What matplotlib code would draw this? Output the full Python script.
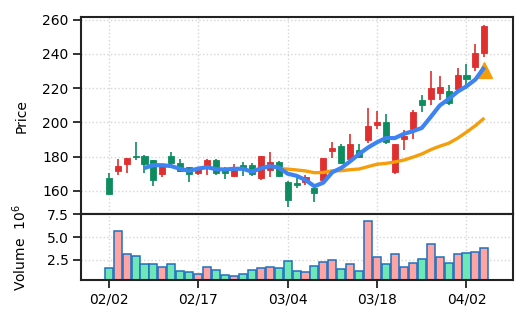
import numpy as np
import pandas as pd
import matplotlib
matplotlib.use("Agg")
import matplotlib.pyplot as plt

# Daily OHLC (price) and volume (millions of shares)
dates = ["02/02", "02/03", "02/04", "02/05", "02/08", "02/09", "02/10", "02/11", "02/12", "02/16",
         "02/17", "02/18", "02/19", "02/22", "02/23", "02/24", "02/25", "02/26", "03/01", "03/02",
         "03/04", "03/05", "03/08", "03/09", "03/10", "03/11", "03/12", "03/15", "03/16", "03/17",
         "03/18", "03/19", "03/22", "03/23", "03/24", "03/25", "03/26", "03/29", "03/30", "03/31",
         "04/02", "04/05", "04/06"]

opens = [167.2, 171.7, 175.7, 180.4, 180.4, 177.9, 170.0, 180.4, 176.2, 173.8,
         170.6, 174.7, 178.1, 173.5, 168.4, 175.2, 175.2, 167.4, 172.1, 177.0,
         165.3, 164.3, 164.9, 161.4, 166.3, 183.4, 186.4, 178.5, 183.7, 189.6,
         198.7, 200.0, 171.1, 190.2, 196.1, 213.2, 213.8, 217.3, 218.1, 219.7,
         227.6, 232.5, 240.7]

highs = [170.6, 178.5, 178.9, 188.3, 180.6, 178.0, 174.8, 182.6, 178.5, 174.0,
         173.2, 178.5, 178.3, 173.8, 175.6, 176.6, 176.2, 180.3, 182.5, 177.6,
         165.9, 167.4, 169.4, 163.0, 179.3, 188.7, 187.3, 193.2, 187.3, 208.5,
         206.9, 204.6, 187.5, 195.7, 207.3, 215.8, 229.9, 227.0, 221.7, 231.5,
         234.0, 245.8, 256.7]

lows = [157.9, 169.4, 170.4, 177.9, 170.4, 162.5, 168.1, 174.3, 171.0, 165.3,
        169.4, 169.4, 169.4, 167.0, 167.8, 168.8, 168.8, 166.3, 167.8, 168.0,
        150.7, 161.6, 163.5, 153.2, 166.1, 179.1, 175.6, 178.3, 179.4, 187.7,
        196.1, 187.3, 170.0, 183.7, 190.2, 205.9, 210.3, 212.8, 210.3, 218.7,
        219.7, 230.1, 238.0]

closes = [158.1, 174.2, 178.9, 179.6, 175.7, 166.2, 174.2, 176.2, 171.5, 170.0,
          172.8, 178.1, 170.6, 170.5, 172.1, 172.7, 169.8, 180.1, 177.0, 168.4,
          154.6, 163.5, 167.8, 158.7, 179.1, 185.0, 176.0, 187.3, 180.0, 198.1,
          200.4, 188.2, 187.3, 192.2, 205.9, 209.9, 220.3, 220.7, 211.2, 227.6,
          225.6, 240.3, 256.5]

volumes = [1.59, 5.67, 3.12, 2.90, 2.10, 2.03, 1.70, 2.10, 1.27, 1.16,
           0.94, 1.70, 1.38, 0.83, 0.75, 0.94, 1.35, 1.59, 1.77, 1.59,
           2.36, 1.33, 1.16, 1.81, 2.31, 2.47, 1.48, 2.03, 1.33, 6.76,
           2.86, 2.03, 3.12, 1.70, 2.14, 2.61, 4.21, 2.79, 2.14, 3.12,
           3.26, 3.34, 3.78]

# Buy-signal marker
signal_day = [42]
signal_price = [230.5]

ma_windows = [5, 20]
ma_colors = ["#3d84f2", "#f59e0b"]
ma_widths = [3.0, 2.4]

up_color, down_color = "#df2f2f", "#0e8c5f"
vol_up, vol_down, vol_edge = "#ffa3a3", "#6fe6b6", "#1f6fbf"

o = np.array(opens)
h = np.array(highs)
l = np.array(lows)
c = np.array(closes)
v = np.array(volumes)
x = np.arange(len(dates))
rising = c >= o

fig = plt.figure(figsize=(5.28, 3.25), dpi=100)
ax = fig.add_axes([0.1534, 0.3406, 0.8182, 0.6071])
axv = fig.add_axes([0.1534, 0.1385, 0.8182, 0.2021], sharex=ax)

grid_kw = dict(color="#d6d6d6", linestyle=":", linewidth=1.0)
for a in (ax, axv):
    a.set_axisbelow(True)
    a.grid(True, **grid_kw)
    for s in a.spines.values():
        s.set_linewidth(1.5)
        s.set_color("#222222")
    a.tick_params(axis="both", direction="out", length=5.5, width=1.3,
                  labelsize=10, color="#222222")

# Candles: wicks then bodies
candle_colors = np.where(rising, up_color, down_color)
ax.vlines(x, l, h, colors=candle_colors, linewidth=1.2, zorder=2)
body_lo = np.minimum(o, c)
body_h = np.maximum(np.abs(c - o), 0.6)
ax.bar(x, body_h, bottom=body_lo, width=0.68, color=candle_colors,
       edgecolor=candle_colors, linewidth=0.6, zorder=2)

# Moving averages
close_s = pd.Series(c)
for w, col, lw in zip(ma_windows, ma_colors, ma_widths):
    ax.plot(x, close_s.rolling(w).mean(), color=col, linewidth=lw,
            solid_capstyle="butt", zorder=4 if w == 5 else 3)

ax.plot(signal_day, signal_price, linestyle="none", marker="^",
        markersize=12, color="#f59e0b", zorder=3.5)

ax.set_xlim(-3.1, 45.2)
ax.set_ylim(146.2, 261.6)
ax.set_yticks([160, 180, 200, 220, 240, 260])
ax.tick_params(axis="x", bottom=False, labelbottom=False)
ax.set_ylabel("Price", fontsize=10)
ax.yaxis.set_label_coords(-0.1215, 0.5)

# Volume panel
vol_colors = np.where(rising, vol_up, vol_down)
axv.bar(x, v, width=0.9, color=vol_colors, edgecolor=vol_edge,
        linewidth=1.1, zorder=2)
axv.set_ylim(0.3, 7.5)
axv.set_yticks([2.5, 5.0, 7.5])
axv.set_yticklabels(["2.5", "5.0", "7.5"])
tick_idx = x[::10]
axv.set_xticks(tick_idx)
axv.set_xticklabels([dates[i] for i in tick_idx])
axv.set_ylabel("Volume  $10^{6}$", fontsize=10)
axv.yaxis.set_label_coords(-0.1215, 0.5)

fig.savefig("out.png", dpi=100)
